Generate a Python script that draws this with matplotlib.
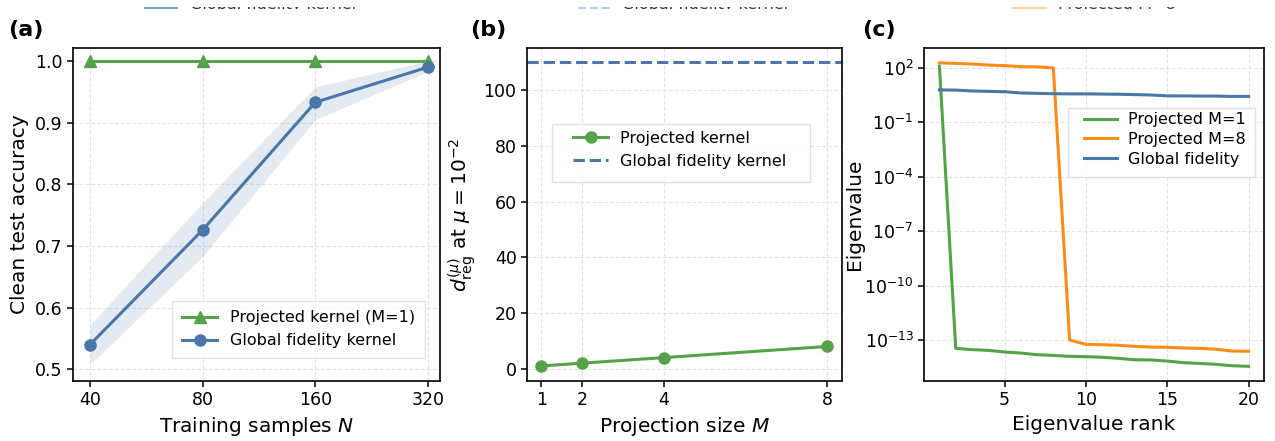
import matplotlib
matplotlib.use("Agg")
import matplotlib.pyplot as plt
from matplotlib.lines import Line2D
from matplotlib.patches import Rectangle
import numpy as np

# panel (a): accuracy vs training samples
n_train = [40, 80, 160, 320]
acc_proj = [1.0, 1.0, 1.0, 1.0]
acc_glob = [0.54, 0.726, 0.933, 0.99]
acc_glob_lo = [0.508, 0.683, 0.905, 0.983]
acc_glob_hi = [0.572, 0.770, 0.958, 1.0]

# panel (b): effective dimension vs projection size
proj_M = [1, 2, 4, 8]
dreg_proj = [1.0, 2.0, 4.0, 8.0]
dreg_glob = 110.0

# panel (c): eigenvalue spectra (log10 values)
rank = list(range(1, 21))
log_eig_m1 = [2.09, -13.46, -13.53, -13.57, -13.66, -13.72, -13.81, -13.85, -13.90, -13.92,
              -13.95, -14.01, -14.09, -14.10, -14.16, -14.25, -14.29, -14.34, -14.42, -14.45]
log_eig_m8 = [2.28, 2.25, 2.22, 2.16, 2.13, 2.07, 2.06, 2.00, -13.0, -13.24,
              -13.26, -13.29, -13.35, -13.39, -13.40, -13.44, -13.46, -13.51, -13.61, -13.62]
log_eig_glob = [0.79, 0.78, 0.73, 0.71, 0.69, 0.62, 0.60, 0.58, 0.57, 0.57,
                0.56, 0.55, 0.53, 0.51, 0.46, 0.46, 0.45, 0.45, 0.43, 0.43]

GREEN = '#55a24a'
BLUE = '#4a76a8'
ORANGE = '#ff8c1a'
FRAME = '#dddddd'

plt.rcParams['font.family'] = 'DejaVu Sans'
plt.rcParams['axes.linewidth'] = 1.2

W, H = 1275, 441
fig = plt.figure(figsize=(W / 100, H / 100), dpi=100)
ax1 = fig.add_axes([73/W, 60/H, 367/W, 333/H])
ax2 = fig.add_axes([527/W, 60/H, 315/W, 333/H])
ax3 = fig.add_axes([924/W, 60/H, 340/W, 333/H])

def style(ax):
    ax.grid(True, ls='--', color='#dddddd', lw=0.8, alpha=0.8)
    ax.set_axisbelow(True)
    ax.tick_params(labelsize=12.5, width=1.1, length=4)

def boxed_legend(ax, anchor, frame, **kw):
    # legend without its own frame, drawn over a hand-sized box
    ax.add_patch(Rectangle(frame[:2], frame[2], frame[3], transform=ax.transAxes,
                           facecolor='white', edgecolor=FRAME, lw=1.0, alpha=0.9,
                           zorder=4.9))
    leg = ax.legend(loc='upper left', bbox_to_anchor=anchor, frameon=False,
                    borderaxespad=0, borderpad=0, fontsize=11.5, **kw)
    leg.set_zorder(5)
    return leg

# (a)
ax1.fill_between(n_train, acc_glob_lo, acc_glob_hi, color=BLUE, alpha=0.15, lw=0)
ax1.plot(n_train, acc_proj, '-^', color=GREEN, lw=2.2, ms=8, label='Projected kernel (M=1)')
ax1.plot(n_train, acc_glob, '-o', color=BLUE, lw=2.2, ms=8, label='Global fidelity kernel')
ax1.set_xscale('log', base=2)
ax1.set_xticks(n_train)
ax1.set_xticklabels([str(v) for v in n_train])
ax1.minorticks_off()
ax1.set_xlim(40 * 2 ** (-17 / 112.5), 320 * 2 ** (12 / 112.5))
ax1.set_ylim(0.481, 1.021)
ax1.set_yticks([0.5, 0.6, 0.7, 0.8, 0.9, 1.0])
ax1.set_xlabel('Training samples $N$', fontsize=14.5)
ax1.set_ylabel('Clean test accuracy', fontsize=14.5)
style(ax1)
ax1.legend(loc='lower right', fontsize=11.5, bbox_to_anchor=(0.98, 0.045),
           handlelength=2.2, borderpad=0.6, fancybox=False, edgecolor=FRAME)

# (b)
ax2.plot(proj_M, dreg_proj, '-o', color=GREEN, lw=2.2, ms=8, label='Projected kernel')
ax2.axhline(dreg_glob, color=BLUE, lw=2.2, ls='--', label='Global fidelity kernel')
ax2.set_xticks(proj_M)
ax2.set_xlim(0.65, 8.37)
ax2.set_ylim(-4.4, 115.2)
ax2.set_xlabel('Projection size $M$', fontsize=14.5)
ax2.set_ylabel(r'$d_{\mathrm{reg}}^{(\mu)}$ at $\mu=10^{-2}$', fontsize=14.5)
style(ax2)
boxed_legend(ax2, (0.146, 0.752), (0.0794, 0.598, 0.819, 0.174),
             handlelength=2.2, handletextpad=0.75)

# (c)
ax3.plot(rank, 10 ** np.array(log_eig_m1), color=GREEN, lw=2.2, label='Projected M=1')
ax3.plot(rank, 10 ** np.array(log_eig_m8), color=ORANGE, lw=2.2, label='Projected M=8')
ax3.plot(rank, 10 ** np.array(log_eig_glob), color=BLUE, lw=2.2, label='Global fidelity')
ax3.set_yscale('log')
ax3.set_yticks([1e2, 1e-1, 1e-4, 1e-7, 1e-10, 1e-13])
ax3.minorticks_off()
ax3.set_xticks([5, 10, 15, 20])
ax3.set_xlim(0.05, 20.95)
ax3.set_ylim(10 ** -15.26, 10 ** 3.1)
ax3.set_xlabel('Eigenvalue rank', fontsize=14.5)
ax3.set_ylabel('Eigenvalue', fontsize=14.5, labelpad=0)
style(ax3)
boxed_legend(ax3, (0.471, 0.807), (0.4235, 0.6126, 0.55, 0.2072),
             handlelength=2.07, handletextpad=0.7, labelspacing=0.3)

for lab, x in [('(a)', 8), ('(b)', 470), ('(c)', 862)]:
    fig.text(x / W, 1 - 30 / H, lab, fontsize=16, fontweight='bold', va='center')

# cut-off remnants of legends along the top edge
ghost = [((145, 177), 190, 'Global fidelity kernel', '#7d9cc4', '-'),
         ((578, 612), 622, 'Global fidelity kernel', '#b9cbe0', '--'),
         ((1013, 1046), 1058, 'Projected M=8', '#ffd3a6', '-')]
for (x0, x1), tx, txt, col, ls in ghost:
    fig.add_artist(Line2D([x0 / W, x1 / W], [1 - 8 / H, 1 - 8 / H],
                          transform=fig.transFigure, color=col, lw=1.6, ls=ls))
    fig.text(tx / W, 1 - 9.2 / H, txt, fontsize=11.5, color='#333333', va='baseline')
fig.add_artist(Rectangle((0, 1 - 7 / H), 1, 7 / H, transform=fig.transFigure,
                         facecolor='white', edgecolor='none', zorder=20))
fig.add_artist(Rectangle((0, 1 - 14 / H), 1, 4.6 / H, transform=fig.transFigure,
                         facecolor='white', edgecolor='none', zorder=20))

fig.savefig('out.png', dpi=100)
